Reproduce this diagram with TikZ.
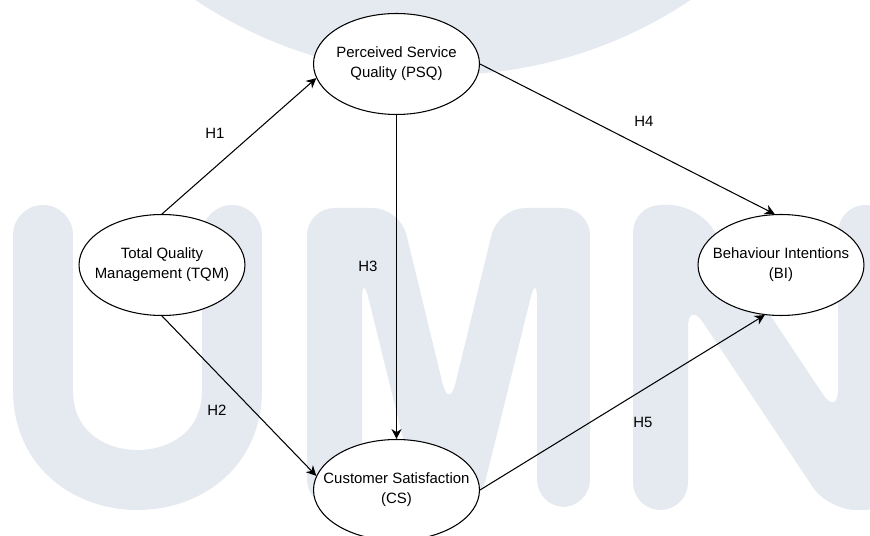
\documentclass[tikz,border=0pt]{standalone}
\usepackage{fontspec}
\setmainfont{Liberation Sans}
\usetikzlibrary{arrows.meta,shapes.geometric}
\definecolor{umngray}{RGB}{229,234,241}
\tikzset{
  construct/.style={ellipse,draw,fill=white,line width=0.6pt,minimum width=3.32cm,minimum height=2.02cm,inner xsep=-0.3cm,inner ysep=0pt,align=center,font=\fontsize{8.5}{11.3}\selectfont},
  hyp/.style={-{Stealth[length=0.2cm,width=0.2cm]},line width=0.6pt},
  hlabel/.style={font=\fontsize{8.5}{10}\selectfont},
  umnletter/.style={fill=umngray,rounded corners=0.55cm}
}
\begin{document}
\begin{tikzpicture}[x=0.02cm,y=-0.02cm]
\useasboundingbox (0,0) rectangle (870,536);
\clip (0,0) rectangle (870,536);
% watermark
\fill[umngray] (443,-371) circle[radius=446];
\draw[umngray,line width=1.2cm,line cap=round] (43,235) -- (43,390) .. controls (43,510) and (232,510) .. (232,390) -- (232,235);
\fill[umnletter] (307,350) -- (307,208) -- (400,208) -- (449,410) -- (498,208) -- (590,208) -- (590,507) -- (537,507) -- (537,272) -- (479,507) -- (420,507) -- (362,272) -- (362,507) -- (307,507) -- cycle;
\fill[umnletter] (633,350) -- (633,205) -- (697,205) -- (838,417) -- (838,205) -- (893,205) -- (893,510) -- (828,510) -- (688,300) -- (688,510) -- (633,510) -- cycle;
% constructs
\node[construct] (tqm) at (162,265) {Total Quality\\Management (TQM)};
\node[construct] (psq) at (396.5,64) {Perceived Service\\Quality (PSQ)};
\node[construct] (cs) at (396.5,490) {Customer Satisfaction\\(CS)};
\node[construct] (bi) at (781,265) {Behaviour Intentions\\(BI)};
% hypotheses
\draw[hyp] (tqm.north) -- (psq.190);
\draw[hyp] (tqm.south) -- (cs.170);
\draw[hyp] (psq.south) -- (cs.north);
\draw[hyp] (psq.east) -- (bi.97);
\draw[hyp] (cs.east) -- (bi.252);
\node[hlabel] (h1) at (215,133) {H1};
\node[hlabel] (h2) at (217,410) {H2};
\node[hlabel] (h3) at (368,266) {H3};
\node[hlabel] (h4) at (644,121) {H4};
\node[hlabel] (h5) at (643,422) {H5};
\end{tikzpicture}
\end{document}
